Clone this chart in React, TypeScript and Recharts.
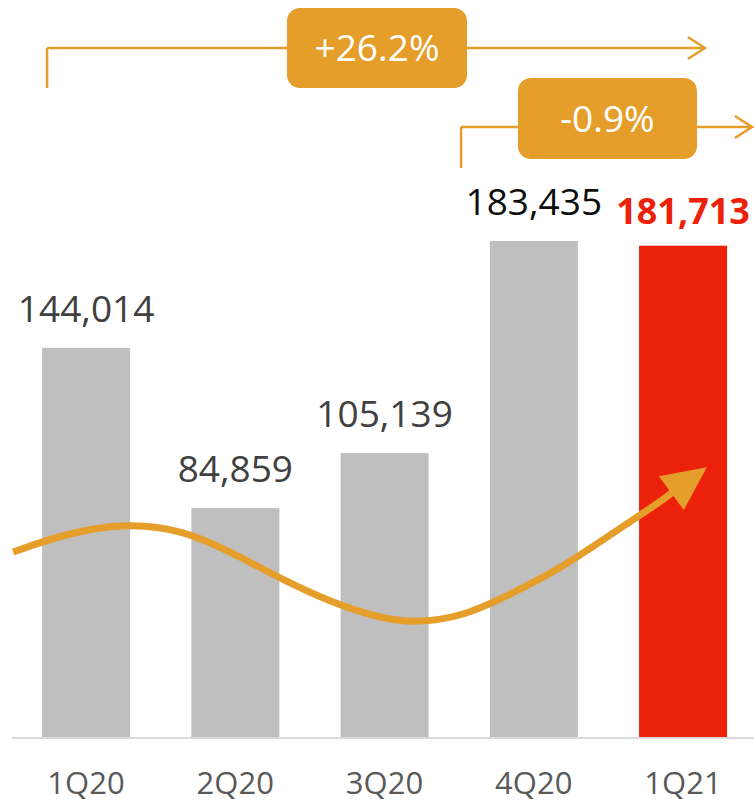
import React from "react";
import {
  ComposedChart,
  Bar,
  Line,
  XAxis,
  YAxis,
  LabelList,
  ReferenceLine,
  ReferenceArea,
  ReferenceDot,
} from "recharts";

// quarters and volumes
const QUARTERS = ["1Q20", "2Q20", "3Q20", "4Q20", "1Q21"];
const VOLUMES = [144014, 84859, 105139, 183435, 181713];

// hand-drawn trend arrow (x in category units)
const TREND_X = [-0.489, -0.127, 0.275, 0.65, 0.985, 1.32, 1.655, 1.97, 2.191, 2.526, 2.861, 3.196, 3.531, 3.866, 3.933];
const TREND_Y = [68652, 75665, 79356, 76773, 68283, 58318, 49828, 44292, 42446, 44661, 53519, 63116, 75665, 87845, 90798];

// growth callouts
const GROWTH_LABELS = ["+26.2%", "-0.9%"];

const ORANGE = "#E69E2B";
const GREY = "#BFBFBF";
const RED = "#EB2109";
const FONT = "'Open Sans', sans-serif";
const HIGHLIGHT = QUARTERS.length - 1;
const BAR_W = 88;

const barData = QUARTERS.map((q, i) => ({ x: i, quarter: q, value: VOLUMES[i] }));
const trendData = TREND_X.map((x, i) => ({ x, trend: TREND_Y[i] }));

// callout geometry in chart units: bracket line, bracket drop, box
const CALLOUTS = [
  { label: GROWTH_LABELS[0], x1: -0.261, x2: 4.147, y: 254678, yDrop: 239914, bx1: 1.347, bx2: 2.553, by1: 239914, by2: 269442 },
  { label: GROWTH_LABELS[1], x1: 2.513, x2: 4.462, y: 225520, yDrop: 210387, bx1: 2.894, bx2: 4.094, by1: 213708, by2: 243605 },
];

function QuarterTick({ x, y, payload }: any) {
  return (
    <text x={x} y={y + 56} textAnchor="middle" fontFamily={FONT} fontSize={31} fill="#595959">
      {QUARTERS[payload.value]}
    </text>
  );
}

// numeric x axis gives a thin band, so draw each bar at a fixed width round its centre
function VolumeBar({ x, y, width, height, index }: any) {
  const cx = x + width / 2;
  return (
    <rect
      x={cx - BAR_W / 2}
      y={y}
      width={BAR_W}
      height={height}
      fill={index === HIGHLIGHT ? RED : GREY}
    />
  );
}

function ValueLabel({ x, y, width, value, index }: any) {
  const hi = index === HIGHLIGHT;
  return (
    <text
      x={x + width / 2}
      y={y - (hi ? 22 : 26)}
      textAnchor="middle"
      fontFamily={FONT}
      fontSize={hi ? 36 : 37}
      fontWeight={hi ? 700 : 400}
      fill={hi ? RED : index === 3 ? "#0D0D0D" : "#404040"}
    >
      {Number(value).toLocaleString("en-US")}
    </text>
  );
}

function ArrowHead(props: any) {
  const { cx, cy, index } = props;
  if (index !== TREND_X.length - 1) return <g key={`d${index}`} />;
  const angle = (Math.atan2(-25, 34) * 180) / Math.PI;
  return (
    <path
      key={`d${index}`}
      d="M-2,-21 L42,0 L-2,21 Z"
      fill={ORANGE}
      transform={`translate(${cx},${cy}) rotate(${angle})`}
    />
  );
}

function Chevron({ cx, cy }: any) {
  return (
    <polyline
      points={`${cx - 17},${cy - 11} ${cx},${cy} ${cx - 17},${cy + 11}`}
      fill="none"
      stroke={ORANGE}
      strokeWidth={2.5}
    />
  );
}

function CalloutBox({ x, y, width, height }: any) {
  return <rect x={x} y={y} width={width} height={height} rx={13} ry={13} fill={ORANGE} />;
}

export default function App() {
  return (
    <div style={{ position: "absolute", left: 0, top: 0, background: "#fff" }}>
      <ComposedChart
        width={754}
        height={802}
        data={barData}
        margin={{ top: 0, right: 0, bottom: 0, left: 12 }}
      >
        <XAxis
          dataKey="x"
          type="number"
          domain={[-0.496, 4.476]}
          ticks={[0, 1, 2, 3, 4]}
          allowDataOverflow
          height={64}
          axisLine={{ stroke: "#D9D9D9", strokeWidth: 2 }}
          tickLine={false}
          tickSize={0}
          tickMargin={0}
          tick={<QuarterTick />}
        />
        <YAxis hide domain={[0, 272400]} allowDataOverflow />

        <Bar dataKey="value" shape={<VolumeBar />} isAnimationActive={false}>
          <LabelList dataKey="value" content={<ValueLabel />} />
        </Bar>

        <Line
          data={trendData}
          dataKey="trend"
          type="basis"
          stroke={ORANGE}
          strokeWidth={7}
          strokeLinecap="butt"
          dot={ArrowHead}
          activeDot={false}
          isAnimationActive={false}
        />

        {CALLOUTS.map((c) => (
          <ReferenceLine
            key={`h${c.label}`}
            segment={[{ x: c.x1, y: c.y }, { x: c.x2, y: c.y }]}
            stroke={ORANGE}
            strokeWidth={2.5}
          />
        ))}
        {CALLOUTS.map((c) => (
          <ReferenceLine
            key={`v${c.label}`}
            segment={[{ x: c.x1, y: c.y }, { x: c.x1, y: c.yDrop }]}
            stroke={ORANGE}
            strokeWidth={2.5}
          />
        ))}
        {CALLOUTS.map((c) => (
          <ReferenceDot key={`a${c.label}`} x={c.x2} y={c.y} r={0} shape={<Chevron />} />
        ))}
        {CALLOUTS.map((c) => (
          <ReferenceArea
            key={`b${c.label}`}
            x1={c.bx1}
            x2={c.bx2}
            y1={c.by1}
            y2={c.by2}
            fillOpacity={1}
            shape={<CalloutBox />}
            label={{
              value: c.label,
              position: "center",
              fill: "#fff",
              fontSize: 37,
              fontFamily: FONT,
            }}
          />
        ))}
      </ComposedChart>
    </div>
  );
}
